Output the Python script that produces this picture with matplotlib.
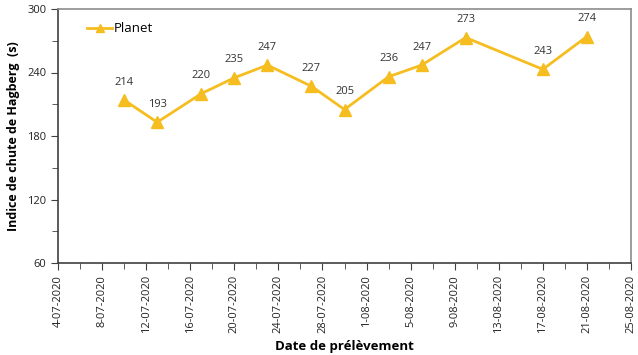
import matplotlib
matplotlib.use("Agg")
import matplotlib.pyplot as plt
import numpy as np
import datetime as dt

# sampling dates and Hagberg falling number
dates = ["2020-07-10", "2020-07-13", "2020-07-17", "2020-07-20", "2020-07-23",
         "2020-07-27", "2020-07-30", "2020-08-03", "2020-08-06", "2020-08-10",
         "2020-08-17", "2020-08-21"]
planet = [214, 193, 220, 235, 247, 227, 205, 236, 247, 273, 243, 274]

plt.rcParams['font.family'] = ['Open Sans', 'DejaVu Sans']
gold = "#F5BD1F"
grey = "#8C8C8C"
dark = "#404040"

x = [dt.datetime.strptime(d, "%Y-%m-%d") for d in dates]

fig = plt.figure(figsize=(6.38, 3.55), dpi=100)
ax = fig.add_axes([58 / 638, 1 - 263 / 355, 573 / 638, 254 / 355])

ax.plot(x, planet, color=gold, lw=2, marker="^", ms=8, label="Planet")
for xi, yi in zip(x, planet):
    ax.annotate(str(yi), (xi, yi), xytext=(0, 9), textcoords="offset points",
                ha="center", va="bottom", fontsize=8, color="#333333")

ax.set_xlim(dt.datetime(2020, 7, 4), dt.datetime(2020, 8, 25))
ax.set_ylim(60, 300)
ax.set_yticks(np.arange(60, 301, 60))
ax.yaxis.set_minor_locator(matplotlib.ticker.MultipleLocator(30))

start = dt.datetime(2020, 7, 4)
major = [start + dt.timedelta(days=4 * i) for i in range(14)]
ax.set_xticks(major)
ax.set_xticks([start + dt.timedelta(days=2 * i) for i in range(27)], minor=True)
ax.set_xticklabels([f"{d.day}-{d.month:02d}-{d.year}" for d in major],
                   rotation=90)

ax.spines["top"].set_color(grey)
ax.spines["right"].set_color(grey)
ax.spines["left"].set_color(dark)
ax.spines["bottom"].set_color(dark)
for s in ax.spines.values():
    s.set_linewidth(1.2)
ax.tick_params(which="both", direction="out", color=dark, labelsize=8,
               labelcolor="#222222")
ax.tick_params(which="major", length=5)
ax.tick_params(which="minor", length=4)

ax.set_ylabel("Indice de chute de Hagberg  (s)", fontsize=9, fontweight="bold")
ax.yaxis.set_label_coords(-0.067, 0.5)
ax.set_xlabel("Date de prélèvement", fontsize=9.5, fontweight="bold")
ax.xaxis.set_label_coords(0.5, -0.305)

ax.legend(loc="upper left", bbox_to_anchor=(0.03, 0.995), frameon=False,
          fontsize=9.5, handlelength=1.9, handletextpad=0.1, markerscale=0.8)

fig.savefig("out.png", dpi=100)
